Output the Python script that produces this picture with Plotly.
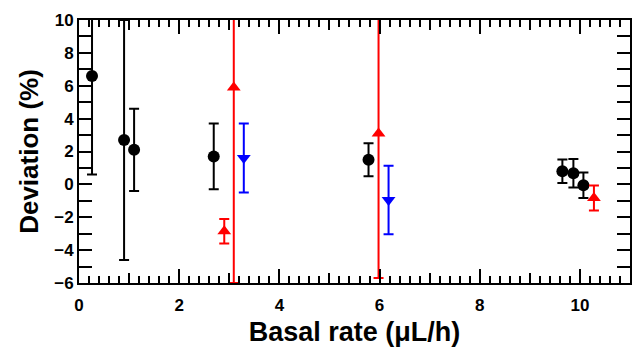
import plotly.graph_objects as go

# Black circles
black_x = [0.26, 0.90, 1.10, 2.69, 5.78, 9.65, 9.87, 10.07]
black_y = [6.6, 2.7, 2.1, 1.7, 1.5, 0.8, 0.68, -0.05]
black_err = [6.0, 7.3, 2.5, 2.0, 1.0, 0.72, 0.87, 0.78]

# Red up-triangles
red_x = [2.90, 3.09, 5.98, 10.28]
red_y = [-2.85, 5.9, 3.1, -0.83]
red_err = [0.75, 11.9, 8.8, 0.76]

# Blue down-triangles
blue_x = [3.29, 6.18]
blue_y = [1.6, -0.95]
blue_err = [2.1, 2.08]

x_range = [0, 11]
y_range = [-6, 10]

font_family = "Liberation Sans, Arial, sans-serif"

fig = go.Figure()

def add_series(x, y, err, color, symbol):
    fig.add_trace(go.Scatter(
        x=x, y=y, mode="markers",
        marker=dict(color=color, symbol=symbol, size=12, line=dict(width=0)),
        error_y=dict(type="data", array=err, visible=True, color=color,
                     thickness=2, width=5),
        showlegend=False,
    ))

add_series(black_x, black_y, black_err, "black", "circle")
add_series(red_x, red_y, red_err, "#ff0000", "triangle-up")
add_series(blue_x, blue_y, blue_err, "#0000ff", "triangle-down")

# dummy trace on xaxis2 for medium ticks at odd integers
fig.add_trace(go.Scatter(x=[None], y=[None], xaxis="x2", yaxis="y",
                         showlegend=False, hoverinfo="skip"))

fig.update_layout(
    width=636, height=357,
    margin=dict(l=79, r=4, t=20, b=74),
    plot_bgcolor="white", paper_bgcolor="white",
    font=dict(family=font_family, color="black"),
    xaxis=dict(
        range=x_range, tickmode="linear", tick0=0, dtick=2,
        ticks="inside", ticklen=14, tickwidth=2, tickcolor="black",
        minor=dict(dtick=0.2, tick0=0, ticks="inside", ticklen=7, tickwidth=2, tickcolor="black"),
        showline=True, linecolor="black", linewidth=2, mirror="allticks",
        showgrid=False, zeroline=False,
        ticklabelstandoff=6,
        tickfont=dict(size=17, family=font_family, color="black", weight="bold"),
        title=dict(text="<b>Basal rate (μL/h)</b>", font=dict(size=27, family=font_family), standoff=8),
    ),
    xaxis2=dict(
        range=x_range, overlaying="x", matches="x", side="bottom",
        tickmode="linear", tick0=1, dtick=2,
        ticks="inside", ticklen=10, tickwidth=2, tickcolor="black",
        showticklabels=False, showline=False, mirror="allticks",
        showgrid=False, zeroline=False,
    ),
    yaxis=dict(
        range=y_range, tickmode="linear", tick0=0, dtick=2,
        ticks="inside", ticklen=13, tickwidth=2, tickcolor="black",
        minor=dict(dtick=1, tick0=0, ticks="inside", ticklen=7, tickwidth=2, tickcolor="black"),
        showline=True, linecolor="black", linewidth=2, mirror="allticks",
        showgrid=False, zeroline=False,
        tickfont=dict(size=17, family=font_family, color="black", weight="bold"),
        title=dict(text="<b>Deviation (%)</b>", font=dict(size=26, family=font_family), standoff=8),
    ),
)

fig.write_html("out.html")
